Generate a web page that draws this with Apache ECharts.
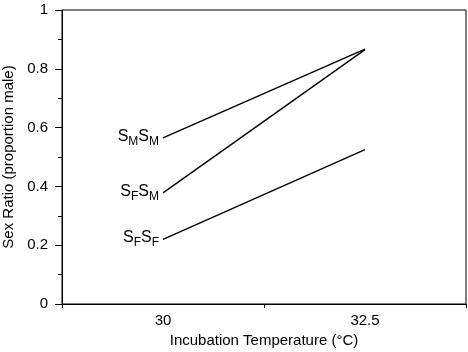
<!DOCTYPE html>
<html>
<head>
<meta charset="utf-8">
<script src="https://cdn.jsdelivr.net/npm/echarts@6/dist/echarts.min.js"></script>
<style>
  html, body { margin: 0; padding: 0; background: #fff; }
  #container { width: 468px; height: 352px; }
</style>
</head>
<body>
<div id="container"></div>
<script>
var temps = ['30', '32.5'];
var smsm = [0.565, 0.867];
var sfsm = [0.378, 0.865];
var sfsf = [0.22, 0.525];
var yTicks = ['0', '0.2', '0.4', '0.6', '0.8', '1'];

var font = 'Liberation Sans, Arial, Helvetica, sans-serif';

var richLabel = {
    s: { fontSize: 16, fontFamily: font, color: '#000', lineHeight: 19, verticalAlign: 'top' },
    sub: { fontSize: 12, fontFamily: font, color: '#000', lineHeight: 13, verticalAlign: 'bottom' }
};

function makeSeries(name, values, text) {
    return {
        name: name,
        type: 'line',
        data: values,
        symbol: 'circle',
        symbolSize: 2,
        showSymbol: true,
        lineStyle: { color: '#000', width: 1.4 },
        itemStyle: { color: 'rgba(0,0,0,0)' },
        label: {
            show: true,
            position: 'left',
            distance: 3,
            color: '#000',
            formatter: function (p) { return p.dataIndex == 0 ? text : ''; },
            rich: richLabel
        },
        silent: true,
        animation: false
    };
}

var dom = document.getElementById('container');
var chart = echarts.init(dom);
chart.setOption({
    animation: false,
    grid: {
        left: 62, right: 2, top: 10, bottom: 48,
        outerBoundsMode: 'none',
        containLabel: false,
        show: true, borderColor: '#000', borderWidth: 1
    },
    xAxis: {
        type: 'category',
        data: temps,
        boundaryGap: true,
        name: 'Incubation Temperature (\u00B0C)',
        nameLocation: 'middle',
        nameGap: 27,
        nameTextStyle: { fontSize: 15, fontFamily: font, color: '#000', verticalAlign: 'top' },
        axisLine: { lineStyle: { color: '#000', width: 1 } },
        axisTick: { show: true, interval: 0, length: 4, lineStyle: { color: '#000' } },
        axisLabel: { fontSize: 15, fontFamily: font, color: '#000', margin: 9 }
    },
    yAxis: {
        type: 'value',
        min: 0, max: 1, interval: 0.2,
        name: 'Sex Ratio (proportion male)',
        nameLocation: 'middle',
        nameGap: 46,
        nameTextStyle: { fontSize: 15, fontFamily: font, color: '#000' },
        axisLine: { show: true, lineStyle: { color: '#000', width: 1 } },
        axisTick: { show: true, length: 7, lineStyle: { color: '#000' } },
        minorTick: { show: true, splitNumber: 2, length: 4, lineStyle: { color: '#000' } },
        splitLine: { show: false },
        axisLabel: {
            fontSize: 15, fontFamily: font, color: '#000', margin: 14,
            formatter: function (v) { return yTicks[Math.round(v * 5)]; }
        }
    },
    series: [
        makeSeries('SMSM', smsm, '{s|S}{sub|M}{s|S}{sub|M}'),
        makeSeries('SFSM', sfsm, '{s|S}{sub|F}{s|S}{sub|M}'),
        makeSeries('SFSF', sfsf, '{s|S}{sub|F}{s|S}{sub|F}')
    ]
});
</script>
</body>
</html>
